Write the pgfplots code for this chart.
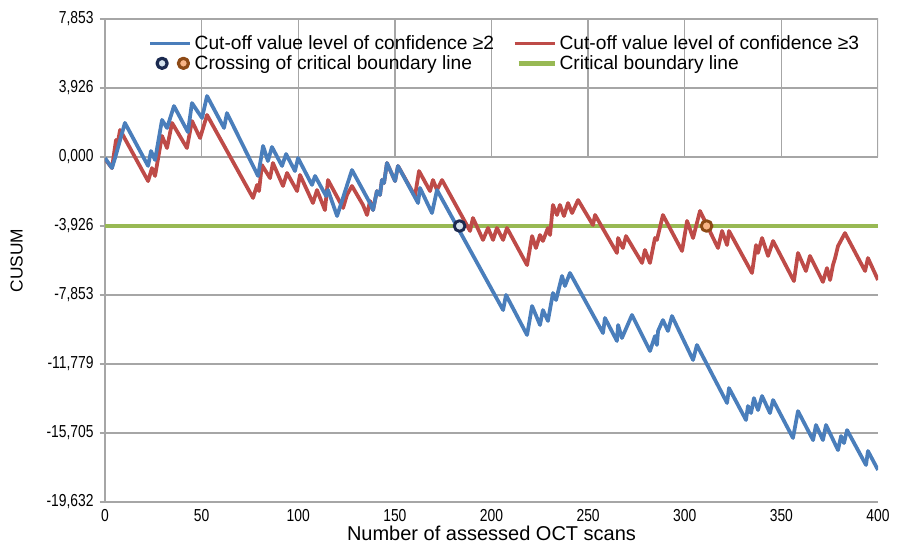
\documentclass[border=0pt]{standalone}
\usepackage{fontspec}
\setmainfont{Liberation Sans}
\newfontfamily\narrowfont[FakeStretch=0.8]{Liberation Sans}
\usepackage{pgfplots}
\pgfplotsset{compat=1.18}
\definecolor{cblue}{HTML}{4A7EBB}
\definecolor{cred}{HTML}{BE4B48}
\definecolor{cgreen}{HTML}{98B954}
\definecolor{cgrid}{HTML}{A6A6A6}
\definecolor{navy}{HTML}{1B2A50}
\definecolor{lblue}{HTML}{D6E3EE}
\definecolor{brown}{HTML}{8E4A16}
\definecolor{lorange}{HTML}{F8B486}
\begin{document}
\begin{tikzpicture}
\begin{axis}[
  scale only axis, width=579.75pt, height=362.25pt,
  xmin=0, xmax=400, ymin=-19.632, ymax=7.853,
  xtick={0,50,...,400},
  /pgf/number format/assume math mode=true,
  ytick={-19.632,-15.705,-11.779,-7.853,-3.926,0,3.926,7.853},
  yticklabels={{-19,632},{-15,705},{-11,779},{-7,853},{-3,926},{0,000},{3,926},{7,853}},
  axis x line*=bottom, axis y line*=left,
  axis line style={cgrid, line width=1pt, -},
  ymajorgrids, major grid style={cgrid, line width=1pt},
  xtick style={draw=none},
  ytick style={cgrid, line width=1pt},
  tick align=outside, major tick length=4pt,
  tick label style={font=\narrowfont\fontsize{13}{14}\selectfont},
  xticklabel style={yshift=2pt},
  yticklabel style={xshift=-1pt},
  xlabel={Number of assessed OCT scans},
  ylabel={CUSUM},
  xlabel style={font=\fontsize{15}{16}\selectfont, yshift=0.5pt, inner sep=0pt},
  ylabel style={font=\fontsize{13}{15}\selectfont, yshift=11pt},
  legend columns=2,
  legend cell align=left,
  legend style={draw=none, fill=none, at={(axis description cs:0.0556,0.972)}, anchor=north west,
    font=\fontsize{14.4}{15}\selectfont, row sep=-1pt, inner sep=0pt,
    /tikz/every even column/.append style={column sep=12pt}},
  line join=round,
]
\coordinate (sw) at (rel axis cs:0,0);
\coordinate (ne) at (rel axis cs:1,1);
\pgfplotsinvokeforeach{0,50,100,150,200,250,300,350,400}{
  \draw[cgrid, line width=1pt] (axis cs:#1,0) -- ++(0,-4pt);
}
\addplot[cgreen, line width=3.5pt, forget plot] coordinates {(0,-3.926) (400,-3.926)};
\addplot[cred, line width=2.8pt, forget plot] table {
0 -0.11
3.6 -0.63
5.7 0.97
6.5 0.75
7.8 1.54
22.3 -1.37
24.3 -0.63
25.9 -1.08
29.5 1.20
32.1 0.51
34.7 1.94
42.4 0.51
45.0 2.05
49.2 1.08
52.8 2.39
76.6 -2.33
78.7 -1.59
79.7 -1.94
81.2 -0.46
85.4 -1.20
86.9 -0.34
92.1 -1.65
94.2 -0.91
99.4 -1.94
100.9 -1.02
107.6 -2.62
109.7 -1.88
113.8 -3.02
115.4 -1.31
123.2 -2.90
125.2 -2.16
127.8 -1.65
133.5 -2.73
135.6 -3.30
137.1 -2.50
138.7 -3.02
140.7 -1.94
142.3 -2.16
143.3 -1.31
144.4 -1.48
145.9 -0.34
150.1 -1.37
151.6 -0.51
160.4 -2.22
162.5 -0.80
168.2 -1.94
169.7 -1.31
171.8 -1.88
174.4 -1.31
188.9 -4.21
190.4 -3.47
195.6 -4.72
198.2 -4.04
200.8 -4.72
202.8 -4.04
206.0 -4.72
208.0 -4.04
218.4 -6.15
221.0 -4.50
223.0 -5.18
225.1 -4.44
226.6 -4.78
229.2 -4.04
230.3 -4.44
231.8 -2.73
233.9 -3.30
235.4 -2.73
237.5 -3.36
239.6 -2.62
241.7 -3.19
244.8 -2.45
252.5 -3.87
253.6 -3.30
264.9 -5.46
265.5 -4.61
268.0 -5.18
269.6 -4.50
277.9 -6.03
279.4 -5.29
282.0 -6.03
284.6 -4.61
285.6 -4.72
288.7 -3.30
298.6 -5.35
301.2 -3.64
304.3 -4.61
307.9 -3.07
317.2 -5.18
319.3 -4.21
321.9 -5.01
322.9 -4.21
334.8 -6.60
336.9 -5.01
337.9 -5.46
340.0 -4.61
343.1 -5.63
345.7 -4.78
356.5 -7.06
358.6 -5.46
362.7 -6.49
364.8 -5.63
371.5 -7.11
373.6 -6.32
375.2 -7.00
376.7 -6.15
377.8 -5.75
379.3 -5.07
382.9 -4.33
393.3 -6.49
394.8 -5.75
400.0 -7.00
};
\addplot[cblue, line width=2.8pt, forget plot] table {
0 -0.06
3.6 -0.63
5.2 -0.06
10.3 1.94
22.3 -0.51
23.8 0.34
25.9 -0.17
29.5 2.11
32.1 1.65
35.7 2.90
42.9 1.42
45.0 3.07
50.2 2.22
52.8 3.47
61.6 1.65
63.1 2.50
79.2 -1.08
81.8 0.63
84.3 -0.23
86.4 0.57
91.6 -0.51
93.7 0.17
98.3 -0.80
99.9 -0.06
107.1 -1.59
108.7 -1.08
114.4 -2.22
115.4 -1.88
120.1 -3.36
127.8 -0.74
137.1 -2.62
138.7 -3.02
140.7 -1.94
142.3 -2.16
143.3 -1.31
144.4 -1.48
145.9 -0.34
150.1 -1.37
151.6 -0.51
162.0 -2.62
163.0 -1.76
169.2 -3.19
171.8 -1.88
206.0 -8.71
207.5 -7.85
218.4 -10.13
221.0 -8.48
225.1 -9.56
226.6 -8.71
229.2 -9.33
231.8 -7.74
233.4 -8.14
236.5 -6.77
238.0 -7.34
240.6 -6.60
257.7 -10.02
258.7 -9.16
264.9 -10.47
265.5 -9.56
267.5 -10.30
272.7 -8.99
282.0 -11.04
284.6 -10.19
285.6 -10.70
286.2 -9.90
288.7 -9.28
291.3 -9.90
293.4 -9.05
304.3 -11.55
306.3 -10.70
321.9 -14.00
322.9 -13.15
331.7 -14.97
332.7 -14.17
334.3 -14.57
335.8 -13.72
337.9 -14.40
340.0 -13.60
344.1 -14.57
345.7 -13.83
356.0 -15.99
358.6 -14.46
366.4 -16.11
367.9 -15.25
371.5 -16.11
373.1 -15.25
379.3 -16.68
380.9 -15.88
382.4 -16.28
384.0 -15.54
393.8 -17.53
394.8 -16.73
400.0 -17.81
};
\addplot[only marks, mark=*, mark size=4pt, draw=navy, fill=lblue, line width=2.2pt, forget plot] coordinates {(183.5,-3.926)};
\addplot[only marks, mark=*, mark size=4pt, draw=brown, fill=lorange, line width=2.2pt, forget plot] coordinates {(311.3,-3.926)};
\addlegendimage{legend image code/.code={\draw[cblue, line width=2.8pt] (0pt,0pt) -- (30pt,0pt);}}
\addlegendentry{Cut-off value level of confidence ≥2}
\addlegendimage{legend image code/.code={\draw[cred, line width=2.8pt] (0pt,0pt) -- (30pt,0pt);}}
\addlegendentry{Cut-off value level of confidence ≥3}
\addlegendimage{legend image code/.code={\draw[navy, fill=lblue, line width=2.4pt] (9pt,0pt) circle (3.8pt); \draw[brown, fill=lorange, line width=2.4pt] (25pt,0pt) circle (3.8pt);}}
\addlegendentry{Crossing of critical boundary line}
\addlegendimage{legend image code/.code={\draw[cgreen, line width=3.5pt] (3pt,0pt) -- (30pt,0pt);}}
\addlegendentry{Critical boundary line}
\end{axis}
\pgfresetboundingbox
\path ([shift={(-78.75pt,-32.25pt)}]sw) rectangle ([shift={(14.25pt,14.25pt)}]ne);
\end{tikzpicture}
\end{document}
